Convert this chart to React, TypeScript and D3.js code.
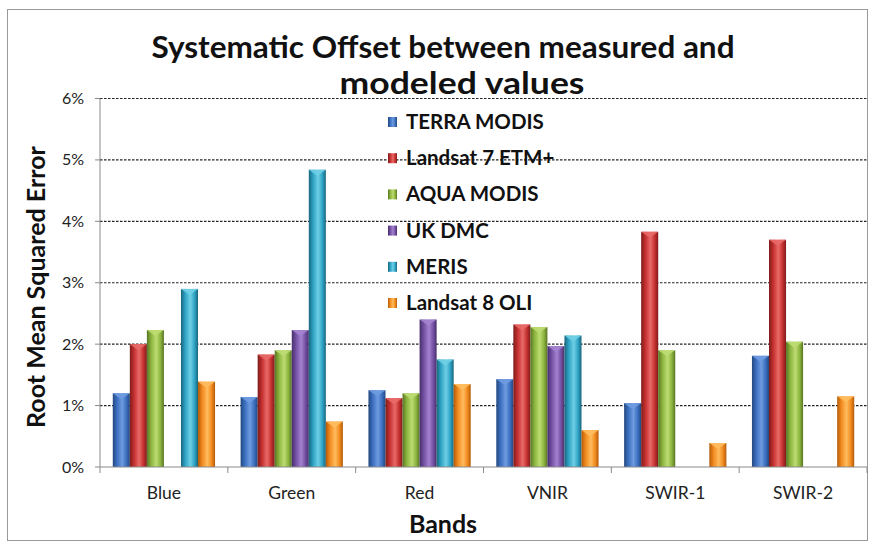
import React from "react";
import * as d3 from "d3";

const bands = ["Blue", "Green", "Red", "VNIR", "SWIR-1", "SWIR-2"];
const seriesNames = ["TERRA MODIS", "Landsat 7 ETM+", "AQUA MODIS", "UK DMC", "MERIS", "Landsat 8 OLI"];
const terraModis = [1.2, 1.14, 1.25, 1.43, 1.04, 1.81];
const landsat7 = [2.0, 1.83, 1.12, 2.32, 3.83, 3.7];
const aquaModis = [2.23, 1.9, 1.2, 2.28, 1.9, 2.04];
const ukDmc = [0, 2.23, 2.4, 1.97, 0, 0];
const meris = [2.9, 4.84, 1.75, 2.14, 0, 0];
const landsat8 = [1.39, 0.74, 1.35, 0.6, 0.39, 1.15];
const seriesValues = [terraModis, landsat7, aquaModis, ukDmc, meris, landsat8];
const yTicks = [0, 1, 2, 3, 4, 5, 6];

const colors = [
  { base: "#3b6fc0", dark: "#23487f", light: "#6f9be0" },
  { base: "#c4302f", dark: "#7e1c1b", light: "#e86a68" },
  { base: "#8cb43e", dark: "#587524", light: "#bddc72" },
  { base: "#7450a3", dark: "#472f6a", light: "#a383cf" },
  { base: "#2ea3c4", dark: "#19657d", light: "#6fcfe6" },
  { base: "#f28b1f", dark: "#b45a08", light: "#ffbc5e" },
];

const FONT = "Lato, 'Open Sans', sans-serif";

export default function App() {
  const W = 875, H = 548;
  const x0 = 100, x1 = 867, yTop = 98.5, yBot = 467;
  const x = d3.scaleBand<string>().domain(bands).range([x0, x1]).paddingInner(0.2).paddingOuter(0.1);
  const xs = d3.scaleBand<string>().domain(seriesNames).range([0, x.bandwidth()]);
  const y = d3.scaleLinear().domain([0, 6]).range([yBot, yTop]);
  const step = x.step();
  const boundaries = d3.range(bands.length + 1).map((i) => x0 + i * step);

  return (
    <svg width={W} height={H} style={{ position: "absolute", left: 0, top: 0 }}>
      <defs>
        {colors.map((c, i) => (
          <linearGradient key={i} id={`g${i}`} x1="0" x2="1" y1="0" y2="0">
            <stop offset="0" stopColor={c.dark} />
            <stop offset="0.25" stopColor={c.base} />
            <stop offset="0.55" stopColor={c.light} />
            <stop offset="0.8" stopColor={c.base} />
            <stop offset="1" stopColor={c.dark} />
          </linearGradient>
        ))}
      </defs>
      <rect x={0} y={0} width={W} height={H} fill="#fff" />
      <rect x={7.5} y={9.5} width={860} height={531} fill="#fff" stroke="#9a9a9a" strokeWidth={1} />

      {/* Title */}
      <text x={443} y={58} textAnchor="middle" fontFamily={FONT} fontWeight="bold" fontSize={30} fill="#111"
        textLength={583} lengthAdjust="spacingAndGlyphs">
        Systematic Offset between measured and
      </text>
      <text x={462} y={94} textAnchor="middle" fontFamily={FONT} fontWeight="bold" fontSize={30} fill="#111"
        textLength={245} lengthAdjust="spacingAndGlyphs">
        modeled values
      </text>

      {/* gridlines */}
      {yTicks.filter((t) => t > 0).map((t) => (
        <line key={t} x1={x0} x2={x1} y1={y(t)} y2={y(t)} stroke="#222" strokeWidth={1.2} strokeDasharray="2.5,1.5" />
      ))}

      {/* y axis */}
      <line x1={x0} x2={x0} y1={yTop} y2={yBot} stroke="#8a8a8a" strokeWidth={1} />
      {yTicks.map((t) => (
        <g key={t}>
          <line x1={x0 - 5} x2={x0} y1={y(t)} y2={y(t)} stroke="#8a8a8a" />
          <text x={x0 - 16} y={y(t) + 5.5} textAnchor="end" fontFamily={FONT} fontSize={16} fill="#222">
            {t}%
          </text>
        </g>
      ))}

      {/* bars */}
      {bands.map((b, bi) => (
        <g key={b}>
          {seriesNames.map((s, si) => {
            const v = seriesValues[si][bi];
            if (!v) return null;
            const bx = (x(b) as number) + (xs(s) as number);
            const bw = xs.bandwidth();
            const by = y(v);
            const c = colors[si];
            return (
              <g key={s}>
                <rect x={bx} y={by} width={bw} height={yBot - by} fill={`url(#g${si})`} />
                <path
                  d={`M${bx},${by} L${bx + bw},${by} L${bx + bw * 0.5},${by + 6} Z`}
                  fill={c.light}
                  opacity={0.9}
                />
              </g>
            );
          })}
        </g>
      ))}

      {/* x axis */}
      <line x1={x0} x2={x1} y1={yBot} y2={yBot} stroke="#8a8a8a" strokeWidth={1} />
      {boundaries.map((bx, i) => (
        <line key={i} x1={bx} x2={bx} y1={yBot} y2={yBot + 6} stroke="#8a8a8a" />
      ))}
      {bands.map((b) => (
        <text key={b} x={(x(b) as number) + x.bandwidth() / 2} y={499} textAnchor="middle" fontFamily={FONT} fontSize={17.5} fill="#222">
          {b}
        </text>
      ))}

      {/* axis titles */}
      <text x={443} y={533} textAnchor="middle" fontFamily={FONT} fontWeight="bold" fontSize={25} fill="#111">
        Bands
      </text>
      <text
        transform={`translate(45,${287}) rotate(-90)`}
        textAnchor="middle"
        fontFamily={FONT}
        fontWeight="bold"
        fontSize={25}
        fill="#111"
      >
        Root Mean Squared Error
      </text>

      {/* legend */}
      {seriesNames.map((s, i) => {
        const ly = 122 + i * 36.2;
        return (
          <g key={s}>
            <rect x={388} y={ly - 5} width={9} height={10} fill={`url(#g${i})`} />
            <text x={406} y={ly + 7} fontFamily={FONT} fontWeight="bold" fontSize={20.5} fill="#111">
              {s}
            </text>
          </g>
        );
      })}
    </svg>
  );
}
